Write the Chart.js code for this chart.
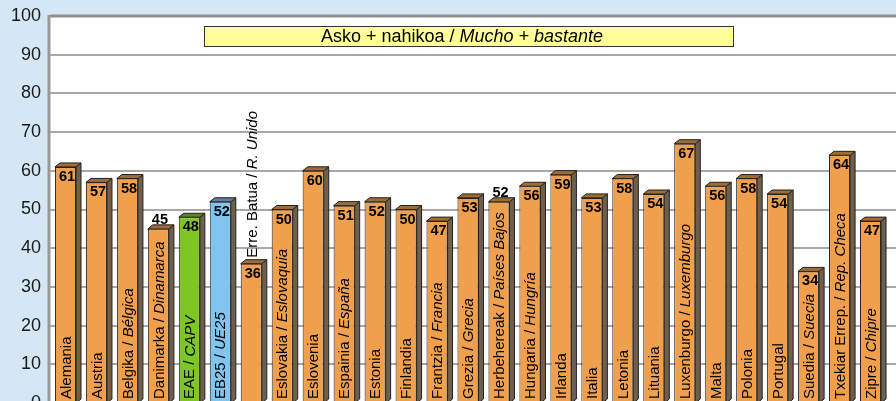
<!DOCTYPE html>
<html>
<head>
<meta charset="utf-8">
<script src="https://cdn.jsdelivr.net/npm/chart.js@4.4.1/dist/chart.umd.min.js"></script>
<style>
  html, body { margin: 0; padding: 0; overflow: hidden; background: #d5e6f4; }
  #wrap { width: 896px; height: 420px; position: relative; }
</style>
</head>
<body>
<div id="wrap"><canvas id="chart"></canvas></div>
<script>
// Data
const categories = [
  'Alemania', 'Austria', 'Belgika / Bélgica', 'Danimarka / Dinamarca', 'EAE / CAPV',
  'EB25 / UE25', 'Erre. Batua / R. Unido', 'Eslovakia / Eslovaquia', 'Eslovenia',
  'Espainia / España', 'Estonia', 'Finlandia', 'Frantzia / Francia', 'Grezia / Grecia',
  'Herbehereak / Países Bajos', 'Hungaria / Hungría', 'Irlanda', 'Italia', 'Letonia',
  'Lituania', 'Luxenburgo / Luxemburgo', 'Malta', 'Polonia', 'Portugal',
  'Suedia / Suecia', 'Txekiar Errep. / Rep. Checa', 'Zipre / Chipre'
];
const values = [61, 57, 58, 45, 48, 52, 36, 50, 60, 51, 52, 50, 47, 53, 52, 56, 59, 53, 58, 54, 67, 56, 58, 54, 34, 64, 47];
const yTicks = [0, 10, 20, 30, 40, 50, 60, 70, 80, 90, 100];
const titleMain = 'Asko + nahikoa / ';
const titleItalic = 'Mucho + bastante';

const ORANGE = '#f0a04c';
const highlight = { 'EAE / CAPV': '#7dc623', 'EB25 / UE25': '#80c4f0' };
const barColors = categories.map(c => highlight[c] || ORANGE);

const DX = 5, DY = 4; // 3D depth
const FAMILY = '"Liberation Sans", Arial, sans-serif';
const nameFont = '15px ' + FAMILY;
const nameItalic = 'italic 15px ' + FAMILY;
const valueFont = 'bold 14.5px ' + FAMILY;
const titleFont = '18px ' + FAMILY;
const titleItalicFont = 'italic 18px ' + FAMILY;

function splitName(name) {
  const i = name.indexOf(' / ');
  if (i < 0) return [name, ''];
  return [name.slice(0, i + 3), name.slice(i + 3)];
}

function nameWidth(ctx, name) {
  const [a, b] = splitName(name);
  ctx.font = nameFont;
  let w = ctx.measureText(a).width;
  if (b) { ctx.font = nameItalic; w += ctx.measureText(b).width; }
  return w;
}

function drawName(ctx, name, x, y) {
  const [a, b] = splitName(name);
  ctx.save();
  ctx.translate(x, y);
  ctx.rotate(-Math.PI / 2);
  ctx.textBaseline = 'middle';
  ctx.textAlign = 'left';
  ctx.fillStyle = '#000';
  ctx.font = nameFont;
  ctx.fillText(a, 0, 0);
  if (b) {
    const w = ctx.measureText(a).width;
    ctx.font = nameItalic;
    ctx.fillText(b, w, 0);
  }
  ctx.restore();
}

// white plot wall + grid lines running to the right edge
const wallPlugin = {
  id: 'wall',
  beforeDatasetsDraw(chart) {
    const { ctx, chartArea, scales } = chart;
    const W = chart.width;
    ctx.save();
    ctx.fillStyle = '#ffffff';
    ctx.fillRect(chartArea.left, chartArea.top, W - chartArea.left, chartArea.bottom - chartArea.top);
    yTicks.forEach(t => {
      const y = Math.round(scales.y.getPixelForValue(t));
      ctx.strokeStyle = t === 100 ? '#909090' : '#a8a8a8';
      ctx.lineWidth = t === 100 ? 3 : 2;
      ctx.beginPath();
      ctx.moveTo(chartArea.left, y);
      ctx.lineTo(W, y);
      ctx.stroke();
    });
    ctx.strokeStyle = '#999999';
    ctx.lineWidth = 3;
    ctx.beginPath();
    ctx.moveTo(chartArea.left - 1, chartArea.top - 1);
    ctx.lineTo(chartArea.left - 1, chart.height);
    ctx.stroke();
    ctx.restore();
  }
};

// 3D faces, labels and the title box
const decoPlugin = {
  id: 'deco',
  afterDatasetsDraw(chart) {
    const { ctx } = chart;
    const meta = chart.getDatasetMeta(0);
    ctx.save();
    meta.data.forEach((bar, i) => {
      const p = bar.getProps(['x', 'y', 'base', 'width'], true);
      const left = p.x - p.width / 2, right = p.x + p.width / 2;
      // side face
      ctx.beginPath();
      ctx.moveTo(right, p.y);
      ctx.lineTo(right + DX, p.y - DY);
      ctx.lineTo(right + DX, p.base - DY);
      ctx.lineTo(right, p.base);
      ctx.closePath();
      ctx.fillStyle = '#6e604c';
      ctx.fill();
      ctx.strokeStyle = '#222';
      ctx.lineWidth = 1;
      ctx.stroke();
      // top face
      ctx.beginPath();
      ctx.moveTo(left, p.y);
      ctx.lineTo(left + DX, p.y - DY);
      ctx.lineTo(right + DX, p.y - DY);
      ctx.lineTo(right, p.y);
      ctx.closePath();
      ctx.fillStyle = barColors[i];
      ctx.fill();
      ctx.fillStyle = 'rgba(40,30,20,0.4)';
      ctx.fill();
      ctx.stroke();

      // labels: name inside from the bottom, value at the top
      const h = p.base - p.y;
      const nw = nameWidth(ctx, categories[i]);
      let nameInside = true, valueInside = true;
      if (nw + 18 > h) {
        if (nw + 2 <= h) valueInside = false;
        else nameInside = false;
      }
      if (nameInside) drawName(ctx, categories[i], p.x + 1, p.base - 4);
      else drawName(ctx, categories[i], p.x + 2, p.y - DY - 2);

      ctx.font = valueFont;
      ctx.fillStyle = '#000';
      ctx.textAlign = 'left';
      ctx.textBaseline = 'alphabetic';
      if (valueInside) ctx.fillText(String(values[i]), left + 4, p.y + 14);
      else ctx.fillText(String(values[i]), left + 4, p.y - 5);
    });

    // title box
    const bx = 204, by = 26, bw = 529, bh = 20;
    ctx.fillStyle = '#ffff99';
    ctx.fillRect(bx, by, bw, bh);
    ctx.strokeStyle = '#333';
    ctx.lineWidth = 1;
    ctx.strokeRect(bx + 0.5, by + 0.5, bw, bh);
    ctx.fillStyle = '#000';
    ctx.textBaseline = 'middle';
    ctx.textAlign = 'left';
    ctx.font = titleFont;
    const w1 = ctx.measureText(titleMain).width;
    ctx.font = titleItalicFont;
    const w2 = ctx.measureText(titleItalic).width;
    const tx = 462 - (w1 + w2) / 2;
    ctx.font = titleFont;
    ctx.fillText(titleMain, tx, by + bh / 2 + 1);
    ctx.font = titleItalicFont;
    ctx.fillText(titleItalic, tx + w1, by + bh / 2 + 1);
    ctx.restore();
  }
};

new Chart(document.getElementById('chart'), {
  type: 'bar',
  data: {
    labels: categories,
    datasets: [{
      data: values,
      backgroundColor: barColors,
      borderColor: '#222',
      borderWidth: 1,
      borderSkipped: false,
      barPercentage: 0.68,
      categoryPercentage: 1
    }]
  },
  options: {
    responsive: true,
    maintainAspectRatio: false,
    animation: false,
    layout: { padding: { top: 16, bottom: 17, left: 0, right: 10 } },
    plugins: { legend: { display: false }, tooltip: { enabled: false } },
    scales: {
      x: { display: false },
      y: {
        min: 0,
        max: 100,
        afterFit(scale) { scale.width = 50; },
        afterBuildTicks(scale) { scale.ticks = yTicks.map(v => ({ value: v })); },
        grid: { display: false },
        border: { display: false },
        ticks: {
          padding: 1,
          color: '#1a1a1a',
          font: { family: FAMILY, size: 18 }
        }
      }
    }
  },
  plugins: [wallPlugin, decoPlugin]
});
</script>
</body>
</html>
